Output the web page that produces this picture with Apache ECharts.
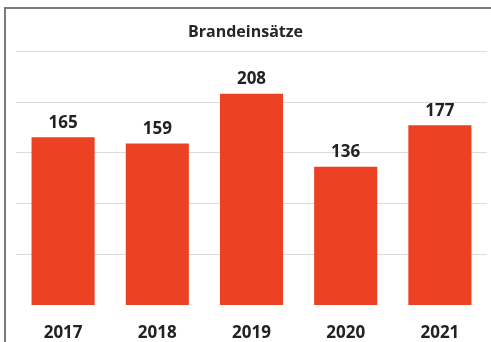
<!DOCTYPE html>
<html>
<head>
<meta charset="utf-8">
<script src="https://cdn.jsdelivr.net/npm/echarts@6/dist/echarts.min.js"></script>
<style>html,body{margin:0;padding:0;background:#fff;overflow:hidden}#c{width:491px;height:342px}</style>
</head>
<body>
<div id="c"></div>
<script>
const title = 'Brandeinsätze';
const categories = ['2017', '2018', '2019', '2020', '2021'];
const values = [165, 159, 208, 136, 177];
const yTicks = [0, 50, 100, 150, 200, 250];

const chart = echarts.init(document.getElementById('c'), null, {renderer: 'canvas'});
chart.setOption({
  backgroundColor: '#ffffff',
  animation: false,
  title: {
    text: title,
    left: 'center',
    top: 19,
    textStyle: {fontFamily: 'Open Sans', fontWeight: 'bold', fontSize: 16, color: '#262626'}
  },
  graphic: [{
    type: 'polyline',
    shape: {points: [[5, 342], [5, 8], [491, 8]]},
    style: {fill: 'none', stroke: '#7a7a7a', lineWidth: 2},
    silent: true, z: 100
  }],
  grid: {left: 16, right: 4, top: 51, bottom: 37, containLabel: false},
  xAxis: {
    type: 'category',
    data: categories,
    axisLine: {show: false},
    axisTick: {show: false},
    axisLabel: {margin: 20, fontFamily: 'Open Sans', fontWeight: 'bold', fontSize: 17, color: '#222'}
  },
  yAxis: {
    type: 'value',
    min: yTicks[0],
    max: yTicks[yTicks.length - 1],
    interval: 50,
    axisLabel: {show: false},
    axisLine: {show: false},
    axisTick: {show: false},
    splitLine: {showMinLine: false, lineStyle: {color: '#dcdcdc', width: 1}}
  },
  series: [{
    type: 'bar',
    data: values,
    barWidth: '67%',
    itemStyle: {color: '#ED4124'},
    label: {
      show: true, position: 'top', distance: 6,
      fontFamily: 'Open Sans', fontWeight: 'bold', fontSize: 17, color: '#222'
    }
  }]
});
</script>
</body>
</html>
